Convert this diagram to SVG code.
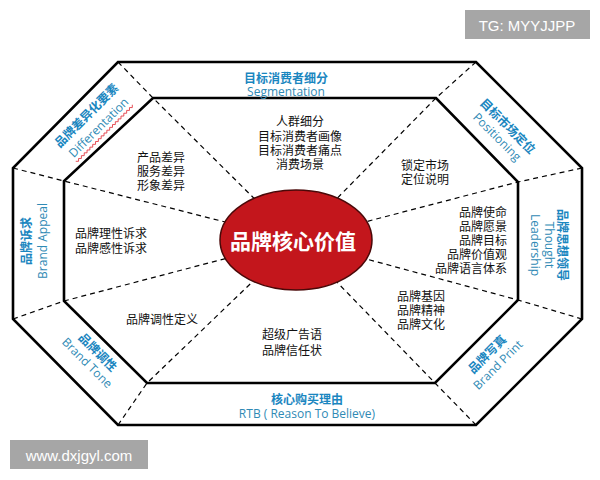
<svg xmlns="http://www.w3.org/2000/svg" width="600" height="480" viewBox="0 0 600 480">
<style>
.frame{fill:none;stroke:#000;stroke-width:2.6;stroke-linejoin:miter}
.dash{fill:none;stroke:#000;stroke-width:1.2;stroke-dasharray:5 4}
.t{font-family:"Noto Sans CJK SC","Noto Sans",sans-serif;font-size:12px;fill:#111;dominant-baseline:central}
.cn{font-family:"Noto Sans CJK SC",sans-serif;font-size:12px;font-weight:bold;fill:#1a86bf;text-anchor:middle;dominant-baseline:central}
.en{font-family:"Open Sans","Noto Sans",sans-serif;font-size:12px;fill:#2f8ab5;text-anchor:middle;dominant-baseline:central}
.wm{font-family:"Liberation Sans",Arial,sans-serif;font-size:15px;fill:#fff;text-anchor:middle;dominant-baseline:central}
</style>
<rect width="600" height="480" fill="#fff"/>
<g id="frames">
<polygon class="frame" points="118,62 476,62 582,168 582,319 476,425 118,425 13,319 13,168"/>
<polygon class="frame" points="153,98 436,98 518,182 518,300 435,383 147,383 64,301 64,181"/>
</g>
<g id="connectors">
<polyline class="dash" points="118,62 153,98 296,240"/>
<polyline class="dash" points="476,62 436,98 296,240"/>
<polyline class="dash" points="582,168 518,182 296,240"/>
<polyline class="dash" points="582,319 518,300 296,240"/>
<polyline class="dash" points="476,425 435,383 296,240"/>
<polyline class="dash" points="118,425 147,383 296,240"/>
<polyline class="dash" points="13,319 64,301 296,240"/>
<polyline class="dash" points="13,168 64,181 296,240"/>
</g>
<g id="core">
<ellipse cx="296" cy="240" rx="76" ry="50" fill="#c3161c" stroke="#4a0808" stroke-width="1.5"/>
<text x="293" y="240" font-family="Noto Sans CJK SC,sans-serif" font-size="21" font-weight="bold" fill="#fff" text-anchor="middle" dominant-baseline="central">品牌核心价值</text>
</g>
<g id="segmentation">
<text class="cn" x="286" y="77">目标消费者细分</text>
<text class="en" x="286" y="91">Segmentation</text>
<text class="t" text-anchor="middle" x="300" y="120">人群细分</text>
<text class="t" text-anchor="middle" x="300" y="135">目标消费者画像</text>
<text class="t" text-anchor="middle" x="300" y="149">目标消费者痛点</text>
<text class="t" text-anchor="middle" x="300" y="163">消费场景</text>
</g>
<g id="positioning">
<g transform="translate(503,131) rotate(45)">
<text class="cn" x="0" y="-8">目标市场定位</text>
<text class="en" x="0" y="8">Positioning</text>
</g>
<text class="t" x="401" y="164">锁定市场</text>
<text class="t" x="401" y="178">定位说明</text>
</g>
<g id="leadership">
<g transform="translate(549,245) rotate(90)">
<text class="cn" x="0" y="-14">品牌思想领导</text>
<text class="en" x="0" y="0">Thought</text>
<text class="en" x="0" y="14">Leadership</text>
</g>
<text class="t" text-anchor="end" x="507" y="211">品牌使命</text>
<text class="t" text-anchor="end" x="507" y="225">品牌愿景</text>
<text class="t" text-anchor="end" x="507" y="239">品牌目标</text>
<text class="t" text-anchor="end" x="507" y="253">品牌价值观</text>
<text class="t" text-anchor="end" x="507" y="267">品牌语言体系</text>
</g>
<g id="print">
<g transform="translate(492,359) rotate(-45)">
<text class="cn" x="0" y="-8">品牌写真</text>
<text class="en" x="0" y="8">Brand Print</text>
</g>
<text class="t" x="397" y="295">品牌基因</text>
<text class="t" x="397" y="309">品牌精神</text>
<text class="t" x="397" y="323">品牌文化</text>
</g>
<g id="rtb">
<text class="cn" x="307" y="398">核心购买理由</text>
<text class="en" x="307" y="413">RTB ( Reason To Believe)</text>
<text class="t" text-anchor="middle" x="292" y="333">超级广告语</text>
<text class="t" text-anchor="middle" x="292" y="349">品牌信任状</text>
</g>
<g id="tone">
<g transform="translate(93,357) rotate(45)">
<text class="cn" x="0" y="-8">品牌调性</text>
<text class="en" x="0" y="8">Brand Tone</text>
</g>
<text class="t" x="126" y="318">品牌调性定义</text>
</g>
<g id="appeal">
<g transform="translate(33,241) rotate(-90)">
<text class="cn" x="0" y="-8">品牌诉求</text>
<text class="en" x="0" y="9">Brand Appeal</text>
</g>
<text class="t" x="75" y="232">品牌理性诉求</text>
<text class="t" x="75" y="247">品牌感性诉求</text>
</g>
<g id="differentiation">
<g transform="translate(92,121) rotate(-45)">
<text class="cn" x="0" y="-9">品牌差异化要素</text>
<text class="en" x="0" y="9">Differentation</text>
<polyline points="-40,17 -38,19 -36,17 -34,19 -32,17 -30,19 -28,17 -26,19 -24,17 -22,19 -20,17 -18,19 -16,17 -14,19 -12,17 -10,19 -8,17 -6,19 -4,17 -2,19 0,17 2,19 4,17 6,19 8,17 10,19 12,17 14,19 16,17 18,19 20,17 22,19 24,17 26,19 28,17 30,19 32,17 34,19 36,17 38,19 40,17" fill="none" stroke="#e0303a" stroke-width="0.8"/>
</g>
<text class="t" x="137" y="156">产品差异</text>
<text class="t" x="137" y="170">服务差异</text>
<text class="t" x="137" y="184">形象差异</text>
</g>
<g id="watermarks">
<rect x="465" y="10" width="125" height="29" fill="#a6a6a6"/>
<text class="wm" x="527" y="25">TG: MYYJJPP</text>
<rect x="10" y="440" width="138" height="29" fill="#a6a6a6"/>
<text class="wm" x="79" y="455">www.dxjgyl.com</text>
</g>
</svg>
